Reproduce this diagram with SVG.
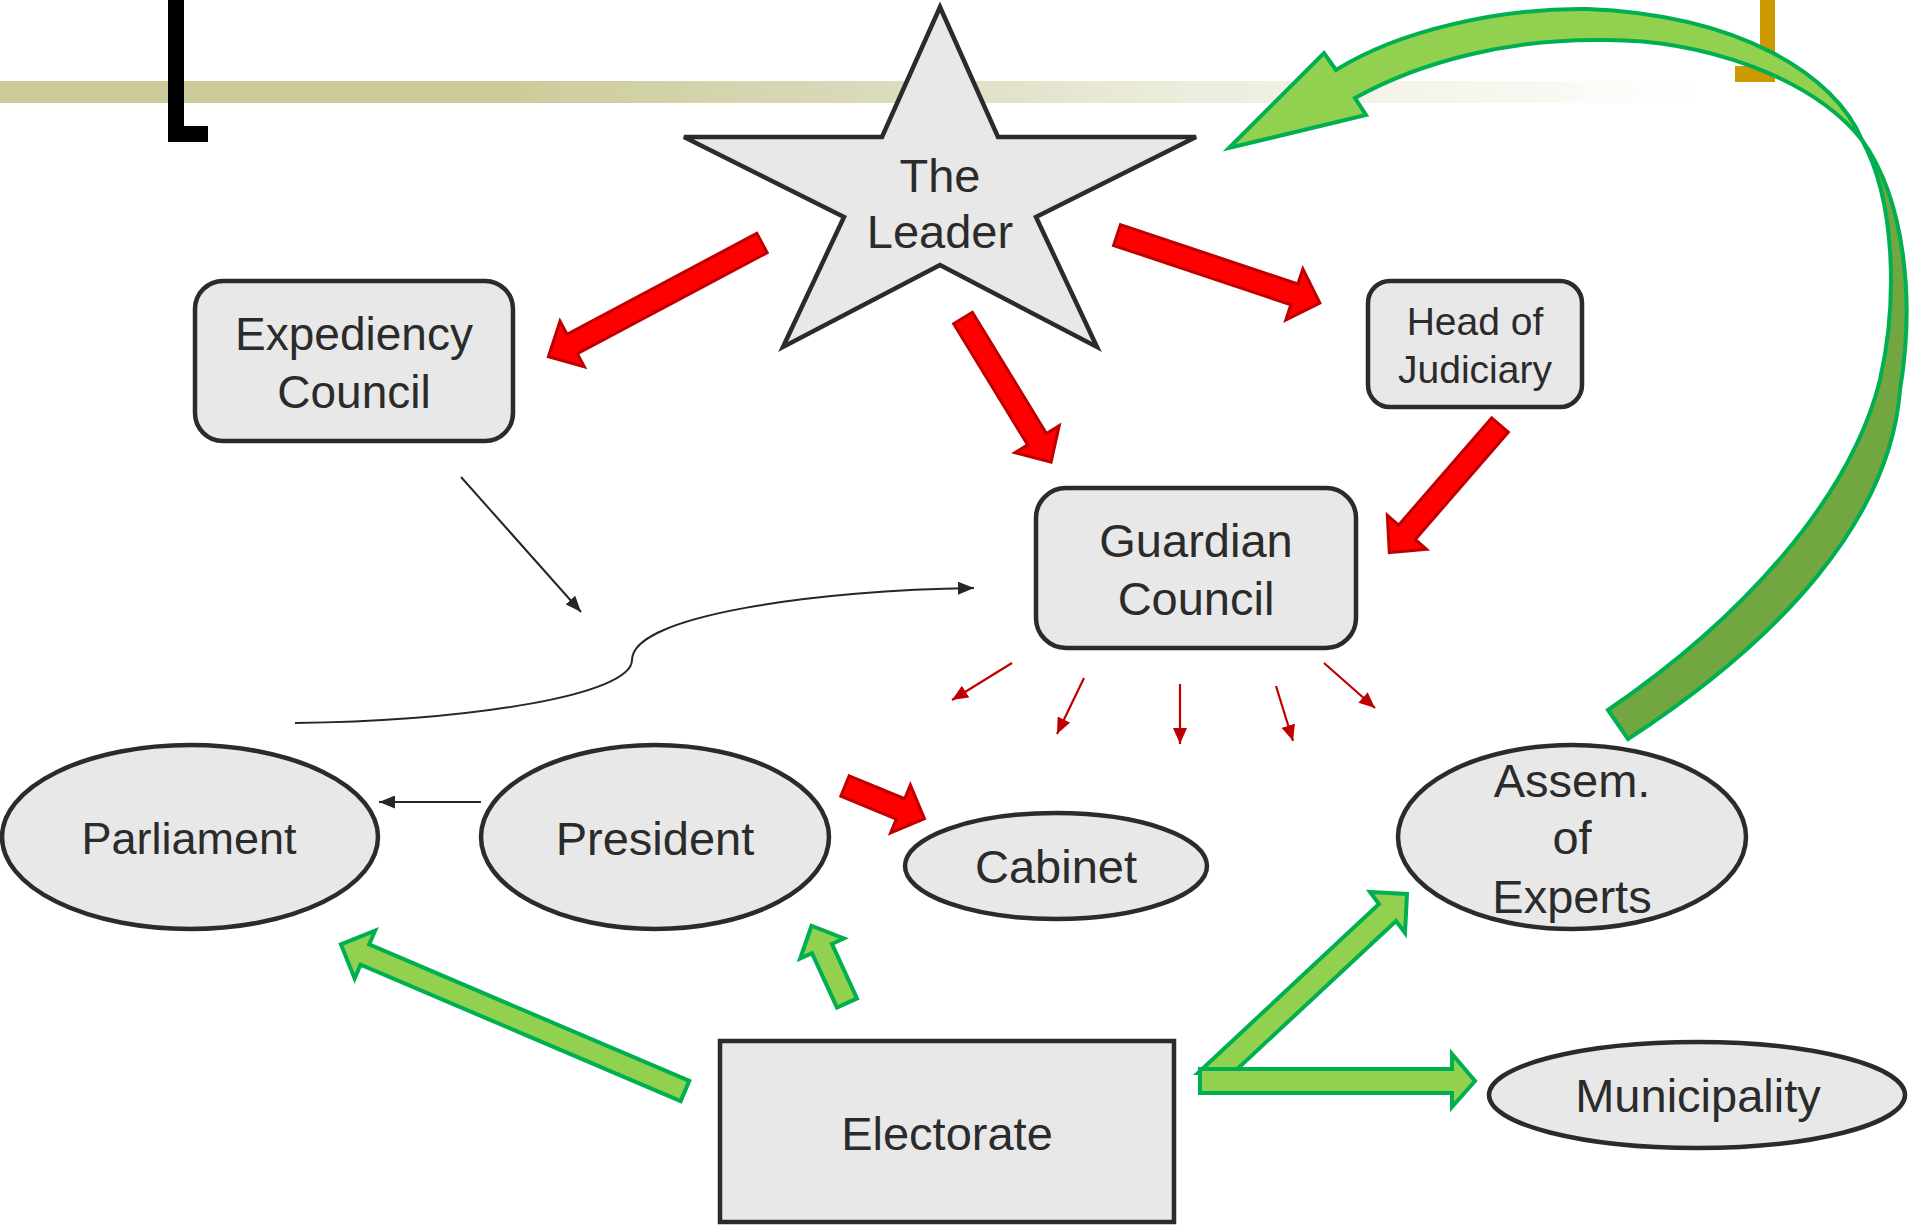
<svg xmlns="http://www.w3.org/2000/svg" width="1911" height="1232" viewBox="0 0 1911 1232">
<defs>
<linearGradient id="bar" gradientUnits="userSpaceOnUse" x1="0" y1="0" x2="1700" y2="0">
<stop offset="0" stop-color="#CBCB99"/>
<stop offset="0.3" stop-color="#CCCC9A"/>
<stop offset="0.5" stop-color="#D9D9BA"/>
<stop offset="0.7" stop-color="#EDEDDD"/>
<stop offset="0.9" stop-color="#F8F8F2"/>
<stop offset="1" stop-color="#FFFFFF"/>
</linearGradient>
<marker id="mRed" markerUnits="userSpaceOnUse" markerWidth="16" markerHeight="14" refX="16" refY="7" orient="auto"><path d="M0,0 L16,7 L0,14 Z" fill="#C00000"/></marker>
<marker id="mBlk" markerUnits="userSpaceOnUse" markerWidth="16" markerHeight="13" refX="16" refY="6.5" orient="auto"><path d="M0,0 L16,6.5 L0,13 Z" fill="#262626"/></marker>
</defs>
<style>
.node{fill:#E8E8E8;stroke:#2B2B2B;stroke-width:4.5}
.lbl{font-family:'Liberation Sans',Arial,sans-serif;fill:#2B2B2B;text-anchor:middle;font-size:47px}
.red{fill:#FF0000;stroke:#C00000;stroke-width:3}
.grn{fill:#92D050;stroke:#00B050;stroke-width:4}
.grnd{fill:#72A640;stroke:#00B050;stroke-width:4}
.tred{stroke:#C00000;stroke-width:2.2;fill:none;marker-end:url(#mRed)}
.tblk{stroke:#262626;stroke-width:2;fill:none;marker-end:url(#mBlk)}
</style>
<rect width="1911" height="1232" fill="#FFFFFF"/>
<g id="decor">
<rect x="0" y="81" width="1700" height="22" fill="url(#bar)"/>
<path d="M168,0 H184 V126 H208 V142 H168 Z" fill="#000000"/>
<path d="M1760,0 H1775 V82 H1735 V66 H1760 Z" fill="#CC9900"/>
</g>
<g id="leader">
<polygon class="node" points="940,7 998,137 1196,137 1036,217 1097,347 940,265 783,347 844,217 684,137 882,137"/>
<text class="lbl" x="940" y="192">The</text>
<text class="lbl" x="940" y="248">Leader</text>
</g>
<g id="expediency">
<rect class="node" x="195" y="281" width="318" height="160" rx="28"/>
<text class="lbl" x="354" y="350" style="font-size:46px">Expediency</text>
<text class="lbl" x="354" y="408" style="font-size:46px">Council</text>
</g>
<g id="judiciary">
<rect class="node" x="1368" y="281" width="214" height="126" rx="22"/>
<text class="lbl" x="1475" y="335" style="font-size:39px">Head of</text>
<text class="lbl" x="1475" y="383" style="font-size:39px">Judiciary</text>
</g>
<g id="guardian">
<rect class="node" x="1036" y="488" width="320" height="160" rx="30"/>
<text class="lbl" x="1196" y="557">Guardian</text>
<text class="lbl" x="1196" y="615">Council</text>
</g>
<g id="parliament">
<ellipse class="node" cx="190" cy="837" rx="188" ry="92"/>
<text class="lbl" x="189" y="854" style="font-size:45px">Parliament</text>
</g>
<g id="president">
<ellipse class="node" cx="655" cy="837" rx="174" ry="92"/>
<text class="lbl" x="655" y="855">President</text>
</g>
<g id="cabinet">
<ellipse class="node" cx="1056" cy="866" rx="151" ry="53"/>
<text class="lbl" x="1056" y="883">Cabinet</text>
</g>
<g id="electorate">
<rect class="node" x="720" y="1041" width="454" height="181"/>
<text class="lbl" x="947" y="1150">Electorate</text>
</g>
<g id="assembly">
<ellipse class="node" cx="1572" cy="837" rx="174" ry="92"/>
<text class="lbl" x="1572" y="797">Assem.</text>
<text class="lbl" x="1572" y="854">of</text>
<text class="lbl" x="1572" y="913">Experts</text>
</g>
<g id="municipality">
<ellipse class="node" cx="1697" cy="1095" rx="208" ry="53"/>
<text class="lbl" x="1698" y="1112">Municipality</text>
</g>
<g id="connectors">
<path class="red" transform="translate(762,243) rotate(151.98)" d="M0,-11 H215 V-26 L242,0 L215,26 V11 H0 Z"/>
<path class="red" transform="translate(963,318) rotate(58.57)" d="M0,-11 H142 V-26 L169,0 L142,26 V11 H0 Z"/>
<path class="red" transform="translate(1117,235) rotate(18.52)" d="M0,-11 H187 V-27 L214,0 L187,27 V11 H0 Z"/>
<path class="red" transform="translate(1500,425) rotate(130.93)" d="M0,-11 H142 V-26 L169,0 L142,26 V11 H0 Z"/>
<path class="red" transform="translate(845,786) rotate(22.42)" d="M0,-11 H60 V-26 L86,0 L60,26 V11 H0 Z"/>
<line class="tred" x1="1012" y1="663" x2="952" y2="700"/>
<line class="tred" x1="1084" y1="678" x2="1057" y2="734"/>
<line class="tred" x1="1180" y1="684" x2="1180" y2="744"/>
<line class="tred" x1="1276" y1="686" x2="1293" y2="741"/>
<line class="tred" x1="1324" y1="663" x2="1375" y2="708"/>
<line class="tblk" x1="461" y1="477" x2="581" y2="612"/>
<line class="tblk" x1="481" y1="802" x2="379" y2="802"/>
<path class="tblk" d="M295,723 C470,721 632,695 632,660 C632,615 820,590 974,588"/>
<path class="grn" transform="translate(685,1091) rotate(203.08)" d="M0,-11 H348 V-26 L374,0 L348,26 V11 H0 Z"/>
<path class="grn" transform="translate(847,1003) rotate(245.33)" d="M0,-11 H60 V-24 L85,0 L60,24 V11 H0 Z"/>
<polygon class="grn" points="1198,1073 1379,904 1370,892 1407,894 1405,933 1396,921 1233,1073"/>
<polygon class="grn" points="1200,1069 1452,1069 1452,1054 1475,1081 1452,1107 1452,1093 1200,1093"/>
<path class="grnd" d="M1862,140 C1905,200 1915,300 1900,390 C1890,520 1780,640 1628,739 L1608,710 C1740,620 1850,500 1880,380 C1898,300 1895,200 1862,140 Z"/>
<path class="grn" d="M1862,140 C1835,75 1740,15 1587,9 C1500,8 1400,30 1336,70 L1324,53 L1229,148 L1366,115 L1355,98 C1420,62 1510,38 1606,40 C1700,40 1810,75 1862,140 Z"/>
</g>
</svg>
